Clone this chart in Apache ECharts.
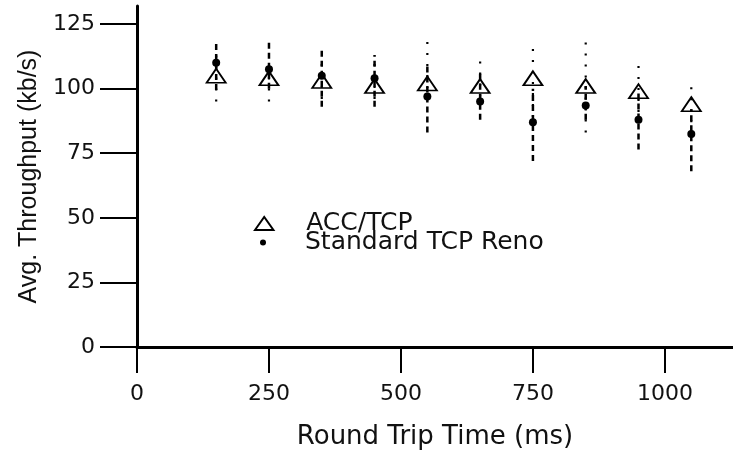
<!DOCTYPE html>
<html>
<head>
<meta charset="utf-8">
<script src="https://cdn.jsdelivr.net/npm/echarts@6/dist/echarts.min.js"></script>
<style>
html,body{margin:0;padding:0;background:#fff}
#c{width:733px;height:450px}
</style>
</head>
<body>
<div id="c"></div>
<script>
// ---- data ----
const xTickValues = [0, 250, 500, 750, 1000];
const yTickValues = [0, 25, 50, 75, 100, 125];
const rtt = [150, 250, 350, 450, 550, 650, 750, 850, 950, 1050];
const accMean  = [105, 104, 103, 101, 102, 101, 104, 101, 99, 94];
const accLow   = [95, 95, 96, 96, 96, 97, 89, 83, 91, 87];
const accHigh  = [114, 112, 110, 110, 119.5, 111, 116.6, 118.5, 109, 103.5];
const renoMean = [110, 107.5, 105, 104, 97, 95, 87, 93.5, 88, 82.5];
const renoLow  = [99.5, 100, 93, 93, 83, 88, 72, 88, 76.5, 68];
const renoHigh = [118.5, 118, 115, 113, 110, 106, 100, 101, 99, 92];

const accName = 'ACC/TCP';
const renoName = 'Standard TCP Reno';

// ---- build ----
const zip2 = (xs, ys) => xs.map((x, i) => [x, ys[i]]);
const zip3 = (xs, a, b) => xs.map((x, i) => [x, a[i], b[i]]);

function barRenderer(dash, width) {
  return function (params, api) {
    const p1 = api.coord([api.value(0), api.value(1)]);
    const p2 = api.coord([api.value(0), api.value(2)]);
    return {
      type: 'line',
      shape: { x1: p1[0], y1: p1[1], x2: p2[0], y2: p2[1] },
      style: { stroke: '#000', lineWidth: width, lineDash: dash, fill: null }
    };
  };
}

const axisFont = { fontFamily: 'DejaVu Sans', fontSize: 22, color: '#111' };
const legendFont = { fontFamily: 'DejaVu Sans', fontSize: 25, color: '#111' };

const chart = echarts.init(document.getElementById('c'), null, { renderer: 'canvas' });
chart.setOption({
  animation: false,
  backgroundColor: '#fff',
  grid: { left: 137, right: 0, top: 6, bottom: 103, containLabel: false, outerBoundsMode: 'none' },
  xAxis: {
    type: 'value', min: 0, max: 1129,
    axisLine: { show: true, onZero: false, lineStyle: { color: '#000', width: 3 } },
    axisTick: { show: true, customValues: xTickValues, length: 26, lineStyle: { color: '#000', width: 2 } },
    axisLabel: Object.assign({ customValues: xTickValues, margin: 36, formatter: v => String(v) }, axisFont),
    splitLine: { show: false },
    name: 'Round Trip Time (ms)', nameLocation: 'middle', nameGap: 77,
    nameTextStyle: { fontFamily: 'DejaVu Sans', fontSize: 26, color: '#111' }
  },
  yAxis: {
    type: 'value', min: 0, max: 132,
    axisLine: { show: true, onZero: false, lineStyle: { color: '#000', width: 3 } },
    axisTick: { show: true, customValues: yTickValues, length: 37, lineStyle: { color: '#000', width: 2 } },
    axisLabel: Object.assign({ customValues: yTickValues, margin: 42, formatter: v => String(v) }, axisFont),
    splitLine: { show: false },
    name: 'Avg. Throughput (kb/s)', nameLocation: 'middle', nameGap: 94,
    nameTextStyle: { fontFamily: 'Liberation Sans', fontSize: 25, color: '#111' }
  },
  legend: [
    {
      data: [{ name: accName, icon: 'path://M0,12L8.5,0L17,12Z' }],
      left: 254, top: 211, padding: 0, itemWidth: 74, itemHeight: 13,
      selectedMode: false,
      textStyle: legendFont
    },
    {
      data: [{ name: renoName, icon: 'circle' }],
      left: 260, top: 230, padding: 0, itemWidth: 74, itemHeight: 6,
      selectedMode: false,
      textStyle: legendFont
    }
  ],
  series: [
    {
      name: 'ACC/TCP range', type: 'custom',
      renderItem: barRenderer([2, 9], 2.2),
      data: zip3(rtt, accLow, accHigh), z: 2
    },
    {
      name: 'Reno range', type: 'custom',
      renderItem: barRenderer([6, 4], 2.5),
      data: zip3(rtt, renoLow, renoHigh), z: 2
    },
    {
      name: accName, type: 'scatter', symbol: 'triangle', symbolSize: [19, 14],
      itemStyle: { color: 'rgba(255,255,255,0)', borderColor: '#000', borderWidth: 1.8, opacity: 1 },
      data: zip2(rtt, accMean), z: 3
    },
    {
      name: renoName, type: 'scatter', symbol: 'circle', symbolSize: 8,
      itemStyle: { color: '#000', opacity: 1 },
      data: zip2(rtt, renoMean), z: 4
    }
  ]
});
</script>
</body>
</html>
